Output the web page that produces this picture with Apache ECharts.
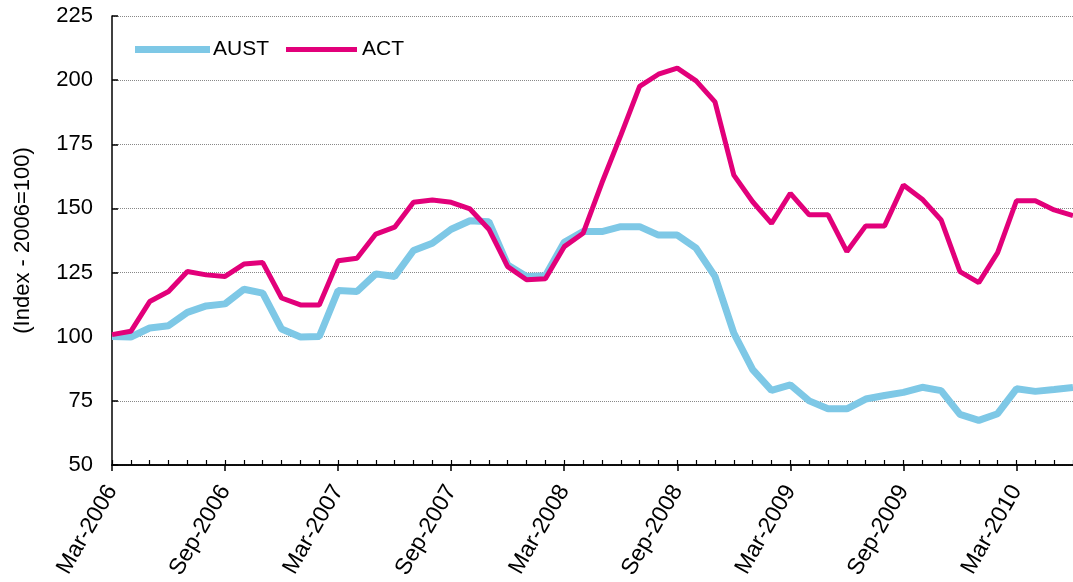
<!DOCTYPE html>
<html>
<head>
<meta charset="utf-8">
<script src="https://cdn.jsdelivr.net/npm/echarts@6/dist/echarts.min.js"></script>
<style>
html,body{margin:0;padding:0;background:#fff;}
#chart{width:1073px;height:582px;}
</style>
</head>
<body>
<div id="chart"></div>
<script>
// Monthly categories Mar-2006 .. Jun-2010
const months = ['Jan','Feb','Mar','Apr','May','Jun','Jul','Aug','Sep','Oct','Nov','Dec'];
const categories = [];
for (let y = 2006, m = 2; !(y === 2010 && m === 6); ) {
  categories.push(months[m] + '-' + y);
  m++; if (m === 12) { m = 0; y++; }
}

const austValues = [
  100.1, 99.9, 103.4, 104.3, 109.5, 112.0, 112.8, 118.5, 117.0, 103.0, 99.9, 100.1,
  118.0, 117.6, 124.5, 123.5, 133.6, 136.4, 141.9, 145.2, 144.8, 128.0, 123.5, 123.8,
  136.8, 141.0, 141.0, 142.9, 142.9, 139.6, 139.6, 134.5, 123.5, 101.4, 87.2, 79.1,
  81.2, 75.0, 71.9, 71.9, 75.7, 77.1, 78.3, 80.3, 79.0, 69.7, 67.4, 70.0,
  79.7, 78.7, 79.4, 80.2
];

const actValues = [
  100.8, 102.1, 113.7, 117.6, 125.4, 124.1, 123.5, 128.3, 128.9, 115.1, 112.4, 112.4,
  129.6, 130.6, 140.0, 142.7, 152.4, 153.3, 152.4, 149.8, 141.9, 127.3, 122.2, 122.6,
  135.1, 140.3, 160.0, 178.5, 197.6, 202.3, 204.7, 199.7, 191.5, 163.0, 152.6, 144.2,
  155.9, 147.5, 147.5, 133.2, 143.2, 143.2, 159.1, 153.6, 145.5, 125.4, 121.1, 132.8,
  153.0, 153.0, 149.4, 147.2
];

const yTicks = { min: 50, max: 225, interval: 25 };
const seriesNames = ['AUST', 'ACT'];
const yTitle = '(Index - 2006=100)';

const FONT = 'Liberation Sans, Arial, sans-serif';
const AUST_COLOR = '#7EC8E6';
const ACT_COLOR = '#E2007A';

const chart = echarts.init(document.getElementById('chart'), null, { renderer: 'canvas' });
chart.setOption({
  animation: false,
  backgroundColor: '#ffffff',
  grid: { left: 112, top: 16, right: -8, bottom: 117, containLabel: false },
  legend: [
    {
      data: [seriesNames[0]], left: 130, top: 34, icon: 'rect',
      itemWidth: 75, itemHeight: 7, itemGap: 10,
      textStyle: { fontFamily: FONT, fontSize: 21, color: '#000', padding: [0, 0, 0, -2] }
    },
    {
      data: [seriesNames[1]], left: 281, top: 34, icon: 'rect',
      itemWidth: 71, itemHeight: 5, itemGap: 10,
      textStyle: { fontFamily: FONT, fontSize: 21, color: '#000', padding: [0, 0, 0, 0] }
    }
  ],
  xAxis: [
    {
      type: 'category', data: categories, boundaryGap: false, position: 'bottom',
      axisLine: { onZero: false, lineStyle: { color: '#000', width: 1.5 } },
      axisTick: { show: true, inside: false, length: 6, interval: 5, lineStyle: { color: '#000', width: 1.5 } },
      axisLabel: { interval: 5, rotate: 60, margin: 22, fontFamily: FONT, fontSize: 23, color: '#000' },
      splitLine: { show: false }
    },
    {
      type: 'category', data: categories, boundaryGap: false, position: 'bottom',
      axisLine: { onZero: false, lineStyle: { color: '#000', width: 1.5 } },
      axisTick: { show: true, inside: true, length: 5, interval: 0, lineStyle: { color: '#000', width: 1.2 } },
      axisLabel: { show: false },
      splitLine: { show: false }
    }
  ],
  yAxis: {
    type: 'value', min: yTicks.min, max: yTicks.max, interval: yTicks.interval,
    name: yTitle, nameLocation: 'middle', nameGap: 78, nameRotate: 90,
    nameTextStyle: { fontFamily: FONT, fontSize: 22, color: '#000' },
    axisLine: { show: true, lineStyle: { color: '#000', width: 1.5 } },
    axisTick: { show: true, inside: true, length: 6, lineStyle: { color: '#000', width: 1.5 } },
    axisLabel: { margin: 19, fontFamily: FONT, fontSize: 22, color: '#000' },
    splitLine: { show: true, lineStyle: { color: '#888', type: 'dotted', width: 1 } }
  },
  series: [
    {
      name: seriesNames[0], type: 'line', data: austValues, xAxisIndex: 0,
      showSymbol: false, symbol: 'none', smooth: false,
      lineStyle: { color: AUST_COLOR, width: 7 }, itemStyle: { color: AUST_COLOR }
    },
    {
      name: seriesNames[1], type: 'line', data: actValues, xAxisIndex: 0,
      showSymbol: false, symbol: 'none', smooth: false,
      lineStyle: { color: ACT_COLOR, width: 5 }, itemStyle: { color: ACT_COLOR }
    }
  ]
});
</script>
</body>
</html>
